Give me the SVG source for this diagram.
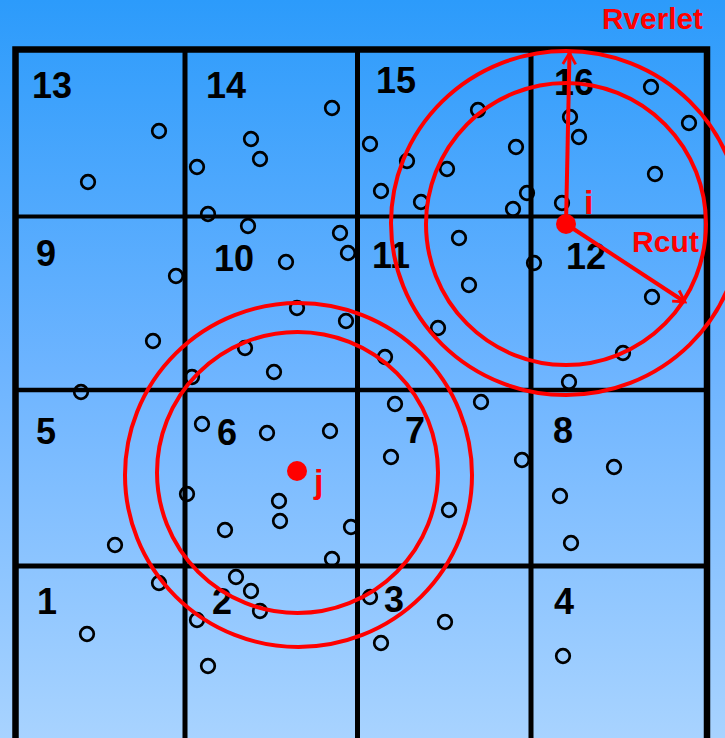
<svg xmlns="http://www.w3.org/2000/svg" width="725" height="738" viewBox="0 0 725 738">
<defs>
<linearGradient id="bg" x1="0" y1="0" x2="0" y2="1">
<stop offset="0" stop-color="#2c9bfb"/>
<stop offset="0.5" stop-color="#6db4ff"/>
<stop offset="1" stop-color="#a8d3ff"/>
</linearGradient>
<marker id="chev" viewBox="0 0 20 20" refX="17" refY="10" markerWidth="16" markerHeight="16" markerUnits="userSpaceOnUse" orient="auto">
<path d="M3,2 L17,10 L3,18" fill="none" stroke="#ff0000" stroke-width="3.5"/>
</marker>
<style>
.grid{stroke:#000;fill:none;stroke-linecap:square}
.p{fill:none;stroke:#000;stroke-width:2.7}
.num{font-family:"Liberation Sans",Arial,sans-serif;font-weight:bold;font-size:36px;fill:#000}
.red{font-family:"Liberation Sans",Arial,sans-serif;font-weight:bold;fill:#ff0000}
.ring{fill:none;stroke:#ff0000;stroke-width:4}
</style>
</defs>
<rect width="725" height="738" fill="url(#bg)"/>
<g id="grid">
<line class="grid" x1="185" y1="50" x2="185" y2="740" stroke-width="5"/>
<line class="grid" x1="357.5" y1="50" x2="357.5" y2="740" stroke-width="5"/>
<line class="grid" x1="531" y1="50" x2="531" y2="740" stroke-width="5"/>
<line class="grid" x1="15.5" y1="216.5" x2="707" y2="216.5" stroke-width="4"/>
<line class="grid" x1="15.5" y1="390" x2="707" y2="390" stroke-width="4.5"/>
<line class="grid" x1="15.5" y1="566" x2="707" y2="566" stroke-width="5"/>
<path class="grid" d="M15.5,745 V49.5 H707 V745" stroke-width="6.5"/>
</g>
<g id="cell-numbers">
<text class="num" x="32" y="98">13</text>
<text class="num" x="206" y="98">14</text>
<text class="num" x="376" y="93">15</text>
<text class="num" x="554" y="95">16</text>
<text class="num" x="36" y="266">9</text>
<text class="num" x="214" y="271">10</text>
<text class="num" x="372" y="268">11</text>
<text class="num" x="566" y="269">12</text>
<text class="num" x="36" y="444">5</text>
<text class="num" x="217" y="445">6</text>
<text class="num" x="405" y="443">7</text>
<text class="num" x="553" y="443">8</text>
<text class="num" x="37" y="614">1</text>
<text class="num" x="212" y="614">2</text>
<text class="num" x="384" y="612">3</text>
<text class="num" x="554" y="614">4</text>
</g>
<g id="particles">
<circle class="p" cx="159" cy="131" r="6.8"/>
<circle class="p" cx="88" cy="182" r="6.8"/>
<circle class="p" cx="332" cy="108" r="6.8"/>
<circle class="p" cx="251" cy="139" r="6.8"/>
<circle class="p" cx="260" cy="159" r="6.8"/>
<circle class="p" cx="197" cy="167" r="6.8"/>
<circle class="p" cx="208" cy="214" r="6.8"/>
<circle class="p" cx="248" cy="226" r="6.8"/>
<circle class="p" cx="370" cy="144" r="6.8"/>
<circle class="p" cx="407" cy="161" r="6.8"/>
<circle class="p" cx="381" cy="191" r="6.8"/>
<circle class="p" cx="421" cy="202" r="6.8"/>
<circle class="p" cx="447" cy="169" r="6.8"/>
<circle class="p" cx="478" cy="110" r="6.8"/>
<circle class="p" cx="516" cy="147" r="6.8"/>
<circle class="p" cx="527" cy="193" r="6.8"/>
<circle class="p" cx="513" cy="209" r="6.8"/>
<circle class="p" cx="570" cy="117" r="6.8"/>
<circle class="p" cx="579" cy="137" r="6.8"/>
<circle class="p" cx="562" cy="203" r="6.8"/>
<circle class="p" cx="651" cy="87" r="6.8"/>
<circle class="p" cx="689" cy="123" r="6.8"/>
<circle class="p" cx="655" cy="174" r="6.8"/>
<circle class="p" cx="459" cy="238" r="6.8"/>
<circle class="p" cx="469" cy="285" r="6.8"/>
<circle class="p" cx="438" cy="328" r="6.8"/>
<circle class="p" cx="385" cy="357" r="6.8"/>
<circle class="p" cx="534" cy="263" r="6.8"/>
<circle class="p" cx="340" cy="233" r="6.8"/>
<circle class="p" cx="348" cy="253" r="6.8"/>
<circle class="p" cx="652" cy="297" r="6.8"/>
<circle class="p" cx="623" cy="353" r="6.8"/>
<circle class="p" cx="569" cy="382" r="6.8"/>
<circle class="p" cx="286" cy="262" r="6.8"/>
<circle class="p" cx="297" cy="308" r="6.8"/>
<circle class="p" cx="346" cy="321" r="6.8"/>
<circle class="p" cx="245" cy="348" r="6.8"/>
<circle class="p" cx="274" cy="372" r="6.8"/>
<circle class="p" cx="192" cy="377" r="6.8"/>
<circle class="p" cx="176" cy="276" r="6.8"/>
<circle class="p" cx="153" cy="341" r="6.8"/>
<circle class="p" cx="81" cy="392" r="6.8"/>
<circle class="p" cx="202" cy="424" r="6.8"/>
<circle class="p" cx="267" cy="433" r="6.8"/>
<circle class="p" cx="330" cy="431" r="6.8"/>
<circle class="p" cx="187" cy="494" r="6.8"/>
<circle class="p" cx="279" cy="501" r="6.8"/>
<circle class="p" cx="280" cy="521" r="6.8"/>
<circle class="p" cx="225" cy="530" r="6.8"/>
<circle class="p" cx="351" cy="527" r="6.8"/>
<circle class="p" cx="332" cy="559" r="6.8"/>
<circle class="p" cx="395" cy="404" r="6.8"/>
<circle class="p" cx="391" cy="457" r="6.8"/>
<circle class="p" cx="449" cy="510" r="6.8"/>
<circle class="p" cx="481" cy="402" r="6.8"/>
<circle class="p" cx="522" cy="460" r="6.8"/>
<circle class="p" cx="614" cy="467" r="6.8"/>
<circle class="p" cx="560" cy="496" r="6.8"/>
<circle class="p" cx="571" cy="543" r="6.8"/>
<circle class="p" cx="115" cy="545" r="6.8"/>
<circle class="p" cx="159" cy="583" r="6.8"/>
<circle class="p" cx="236" cy="577" r="6.8"/>
<circle class="p" cx="251" cy="591" r="6.8"/>
<circle class="p" cx="260" cy="611" r="6.8"/>
<circle class="p" cx="197" cy="620" r="6.8"/>
<circle class="p" cx="370" cy="597" r="6.8"/>
<circle class="p" cx="445" cy="622" r="6.8"/>
<circle class="p" cx="381" cy="643" r="6.8"/>
<circle class="p" cx="87" cy="634" r="6.8"/>
<circle class="p" cx="208" cy="666" r="6.8"/>
<circle class="p" cx="563" cy="656" r="6.8"/>
</g>
<g id="particle-i">
<ellipse class="ring" cx="566" cy="224" rx="140" ry="141"/>
<ellipse class="ring" cx="566" cy="223" rx="175" ry="172"/>
<circle cx="566" cy="224" r="10" fill="#ff0000"/>
<text class="red" x="584" y="214" font-size="34">i</text>
</g>
<g id="particle-j">
<ellipse class="ring" cx="297.5" cy="472.5" rx="140.5" ry="140.5"/>
<ellipse class="ring" cx="298.5" cy="475" rx="173.5" ry="172"/>
<circle cx="297" cy="471" r="10" fill="#ff0000"/>
<text class="red" x="314" y="493" font-size="34">j</text>
</g>
<g id="connectors">
<line x1="566" y1="224" x2="569.5" y2="53" stroke="#ff0000" stroke-width="4" marker-end="url(#chev)"/>
<line x1="566" y1="224" x2="685" y2="302" stroke="#ff0000" stroke-width="4" marker-end="url(#chev)"/>
</g>
<g id="labels">
<text class="red" x="602" y="29" font-size="29" textLength="101" lengthAdjust="spacingAndGlyphs">Rverlet</text>
<text class="red" x="632" y="252" font-size="29" textLength="67" lengthAdjust="spacingAndGlyphs">Rcut</text>
</g>
</svg>
